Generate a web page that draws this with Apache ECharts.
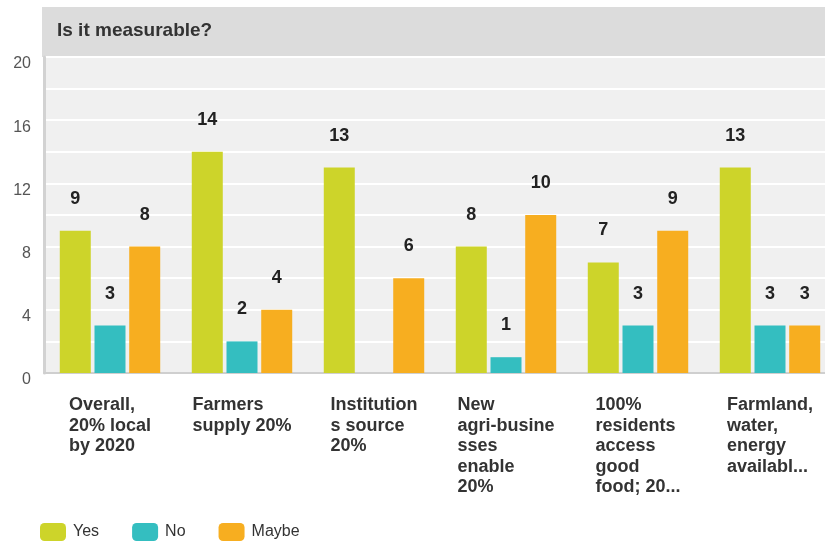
<!DOCTYPE html>
<html>
<head>
<meta charset="utf-8">
<script src="https://cdn.jsdelivr.net/npm/echarts@6/dist/echarts.min.js"></script>
<style>
html,body{margin:0;padding:0;background:#fff;}
#chart{width:825px;height:541px;}
</style>
</head>
<body>
<div id="chart"></div>
<script>
var titleText = 'Is it measurable?';
var categories = [
  'Overall,\n20% local\nby 2020',
  'Farmers\nsupply 20%',
  'Institution\ns source\n20%',
  'New\nagri-busine\nsses\nenable\n20%',
  '100%\nresidents\naccess\ngood\nfood; 20...',
  'Farmland,\nwater,\nenergy\navailabl...'
];
var seriesNames = ['Yes', 'No', 'Maybe'];
var yesValues = [9, 14, 13, 8, 7, 13];
var noValues = [3, 2, 0, 1, 3, 3];
var maybeValues = [8, 4, 6, 10, 9, 3];
var yTicks = [0, 4, 8, 12, 16, 20];
var colors = ['#cdd42a', '#34bec0', '#f7ae20'];

var chart = echarts.init(document.getElementById('chart'), null, {renderer: 'canvas'});

function mkSeries(name, data, color) {
  return {
    name: name,
    type: 'bar',
    data: data,
    barWidth: 31,
    barGap: '12%',
    itemStyle: {color: color},
    label: {
      show: true,
      position: 'top',
      distance: 23,
      fontFamily: 'Liberation Sans, Arial, sans-serif',
      fontSize: 18,
      fontWeight: 'bold',
      color: '#222',
      formatter: function (p) { return p.value === 0 ? '' : String(p.value); }
    }
  };
}

var option = {
  animation: false,
  backgroundColor: '#ffffff',
  textStyle: {fontFamily: 'Liberation Sans, Arial, sans-serif'},
  graphic: [
    {type: 'rect', shape: {x: 42, y: 7, width: 783, height: 50}, style: {fill: '#dcdcdc'}, z: 0, silent: true},
    {type: 'text', x: 57, y: 31, style: {text: titleText, fontFamily: 'Liberation Sans, Arial, sans-serif', fontSize: 19, fontWeight: 'bold', fill: '#333', textVerticalAlign: 'middle'}, z: 10}
  ],
  legend: {
    left: 40,
    top: 523,
    padding: 0,
    itemWidth: 26,
    itemHeight: 18,
    itemGap: 33,
    icon: 'roundRect',
    textStyle: {fontSize: 16, color: '#333', fontFamily: 'Liberation Sans, Arial, sans-serif', padding: [0, 0, 0, 2]},
    data: seriesNames
  },
  grid: {
    left: 44,
    top: 57,
    width: 792,
    height: 316,
    show: true,
    backgroundColor: '#f0f0f0',
    borderWidth: 0,
    containLabel: false,
    outerBoundsMode: 'none'
  },
  xAxis: {
    type: 'category',
    data: categories,
    axisTick: {show: false},
    axisLine: {show: true, lineStyle: {color: '#cfcfcf', width: 2}},
    axisLabel: {
      interval: 0,
      margin: 22,
      formatter: function (v) { return '{a|' + v + '}'; },
      rich: {
        a: {align: 'left', fontSize: 18, fontWeight: 'bold', color: '#333', lineHeight: 20.5, fontFamily: 'Liberation Sans, Arial, sans-serif'}
      }
    }
  },
  yAxis: {
    type: 'value',
    min: 0,
    max: 20,
    interval: 2,
    axisLine: {show: true, lineStyle: {color: '#d2d2d2', width: 3}},
    axisTick: {show: false},
    splitLine: {show: true, lineStyle: {color: '#ffffff', width: 2}},
    axisLabel: {
      margin: 13,
      fontSize: 16,
      color: '#555',
      verticalAlign: 'top',
      lineHeight: 14,
      formatter: function (v) { return yTicks.indexOf(v) >= 0 ? String(v) : ''; }
    }
  },
  series: [
    mkSeries(seriesNames[0], yesValues, colors[0]),
    mkSeries(seriesNames[1], noValues, colors[1]),
    mkSeries(seriesNames[2], maybeValues, colors[2])
  ]
};
chart.setOption(option);
</script>
</body>
</html>
